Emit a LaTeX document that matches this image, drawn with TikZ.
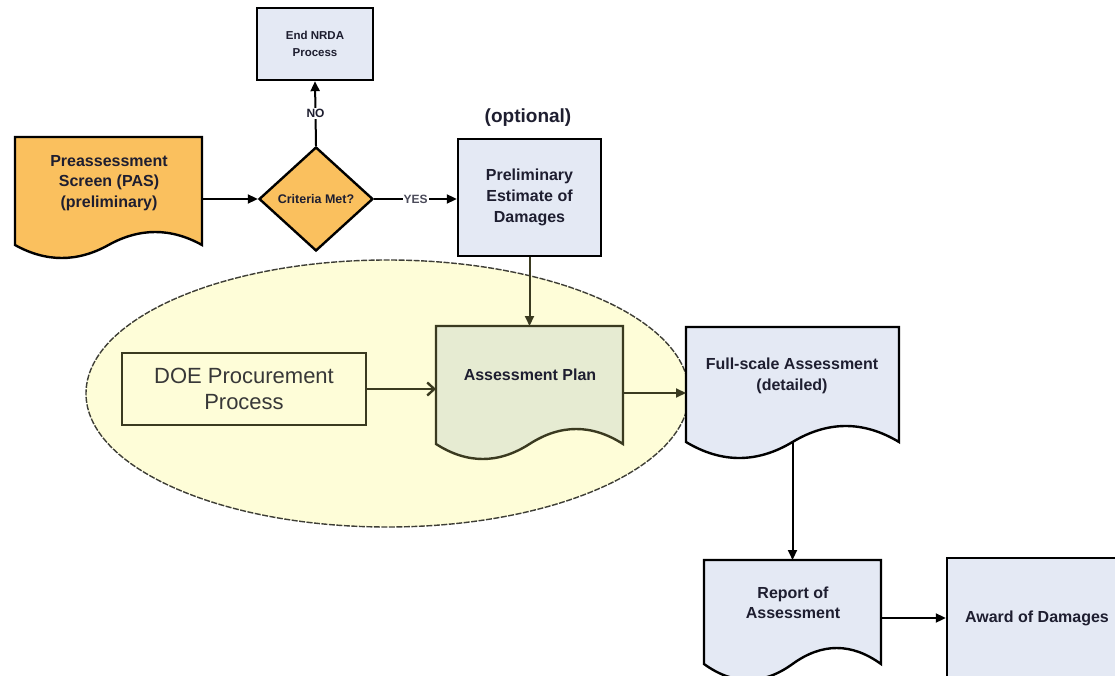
\documentclass[tikz,border=0pt]{standalone}
\usepackage{fontspec}
\setmainfont{Liberation Sans}
\usetikzlibrary{shapes.geometric,arrows.meta,calc}
\definecolor{orng}{HTML}{FAC05E}
\definecolor{bluef}{HTML}{E4E9F4}
\definecolor{apf}{HTML}{E6EBD2}
\definecolor{ellf}{HTML}{FEFDD8}
\definecolor{olive}{HTML}{3A3A20}
\definecolor{txt}{HTML}{1E1E30}
\definecolor{ellline}{HTML}{3E3E36}
\newcommand\docpath[4]{%
  \draw[line width=2.4pt, draw=#3, fill=#2, line join=miter]
    let \p1=(#1.south west), \p2=(#1.north east), \n1={(\x2-\x1)/6}, \n2={#4*4/3} in
    (\x1,\y2) -- (\x2,\y2) -- (\x2,\y1)
    .. controls (\x2-\n1,\y1+\n2) and (\x2-2*\n1,\y1+\n2) .. (\x2-3*\n1,\y1)
    .. controls (\x1+2*\n1,\y1-\n2) and (\x1+\n1,\y1-\n2) .. (\x1,\y1) -- cycle;}
\tikzset{
  box/.style={draw=black, line width=2.4pt, fill=bluef, inner sep=0pt, outer sep=1.2pt, text=txt, align=center},
  docbody/.style={draw=none, inner sep=0pt, outer sep=0pt},
  btext/.style={text=txt, align=center, font=\bfseries\fontsize{16}{20.5}\selectfont, inner sep=0pt},
  conn/.style={line width=2pt, draw=black, -{Triangle[length=10pt,width=9pt]}},
  oconn/.style={line width=2pt, draw=olive, -{Triangle[length=10pt,width=9pt]}},
}
\begin{document}
\begin{tikzpicture}[x=1pt,y=-1pt]
\useasboundingbox (0,0) rectangle (1115,676);
\clip (0,0) rectangle (1115,676);
\fill[white] (0,0) rectangle (1115,676);

% ellipse background
\node[ellipse, draw=ellline, line width=1.4pt, dash pattern=on 6pt off 1.5pt, fill=ellf,
      minimum width=603pt, minimum height=267pt, inner sep=0pt] (ell) at (387.5,393.5) {};

% End NRDA
\node[box, minimum width=116pt, minimum height=72pt, font=\bfseries\fontsize{11.5}{17}\selectfont] (endb) at (315,44) {End NRDA\\Process};

% diamond
\node[diamond, draw=black, line width=2.4pt, fill=orng, minimum width=114pt, minimum height=104pt,
      inner sep=1pt, outer sep=1.2pt, text=txt, font=\bfseries\fontsize{12.5}{15}\selectfont] (dia) at (316,199) {Criteria Met?};

% PAS document
\node[docbody, minimum width=187pt, minimum height=108pt] (pas) at (108.5,191) {};
\docpath{pas}{orng}{black}{13}
\node[btext] (pastext) at (109,183) {Preassessment\\Screen (PAS)\\(preliminary)};

% Preliminary estimate
\node[box, minimum width=143pt, minimum height=117pt, font=\bfseries\fontsize{16}{21}\selectfont] (prelim) at (529.5,197.5) {Preliminary\\Estimate of\\Damages};
\node[text=txt, font=\bfseries\fontsize{19}{22}\selectfont, inner sep=0pt] (opt) at (528,118) {(optional)};

% DOE procurement
\node[draw=olive, line width=2.4pt, inner sep=0pt, outer sep=1.2pt, minimum width=244pt, minimum height=72pt,
      align=center, text=black!78, font=\fontsize{22}{26}\selectfont] (doe) at (244,389) {DOE Procurement\\Process};

% Assessment plan
\node[docbody, minimum width=187pt, minimum height=118pt] (ap) at (529.5,385) {};
\docpath{ap}{apf}{olive}{15}
\node[btext] (aptext) at (530,375) {Assessment Plan};

% Full-scale assessment
\node[docbody, minimum width=213pt, minimum height=115pt] (fs) at (792.5,384.5) {};
\docpath{fs}{bluef}{black}{16}
\node[btext] (fstext) at (792,376) {Full-scale Assessment\\(detailed)};

% Report of assessment
\node[docbody, minimum width=177pt, minimum height=104pt] (rep) at (792.5,612) {};
\docpath{rep}{bluef}{black}{16}
\node[btext] (reptext) at (793,603) {Report of\\Assessment};

% Award
\node[box, minimum width=180pt, minimum height=120pt, font=\bfseries\fontsize{16}{20}\selectfont] (award) at (1037,618) {Award of Damages};

% connectors
\draw[conn] (pas.east |- dia.west) -- (dia.west);
\draw[conn] (dia.north) -- node[fill=white, inner sep=1pt, text=txt, font=\bfseries\fontsize{12}{14}\selectfont] (nolab) {NO} (endb.south);
\draw[conn] (dia.east) -- node[fill=white, inner sep=1pt, text=txt!80, font=\bfseries\fontsize{12}{14}\selectfont] (yeslab) {YES} (dia.east -| prelim.west);
\draw[oconn] (prelim.south) -- (ap.north);
\draw[line width=2.4pt, draw=olive, -{Straight Barb[length=7pt,width=13pt]}] (doe.east) -- (doe.east -| ap.west);
\draw[oconn] ([yshift=-8pt]ap.east) -- ([yshift=-8pt]ap.east -| fs.west);
\draw[conn] (fs.south) -- (rep.north);
\draw[conn] (rep.east |- award.west) -- (award.west);
\end{tikzpicture}
\end{document}
